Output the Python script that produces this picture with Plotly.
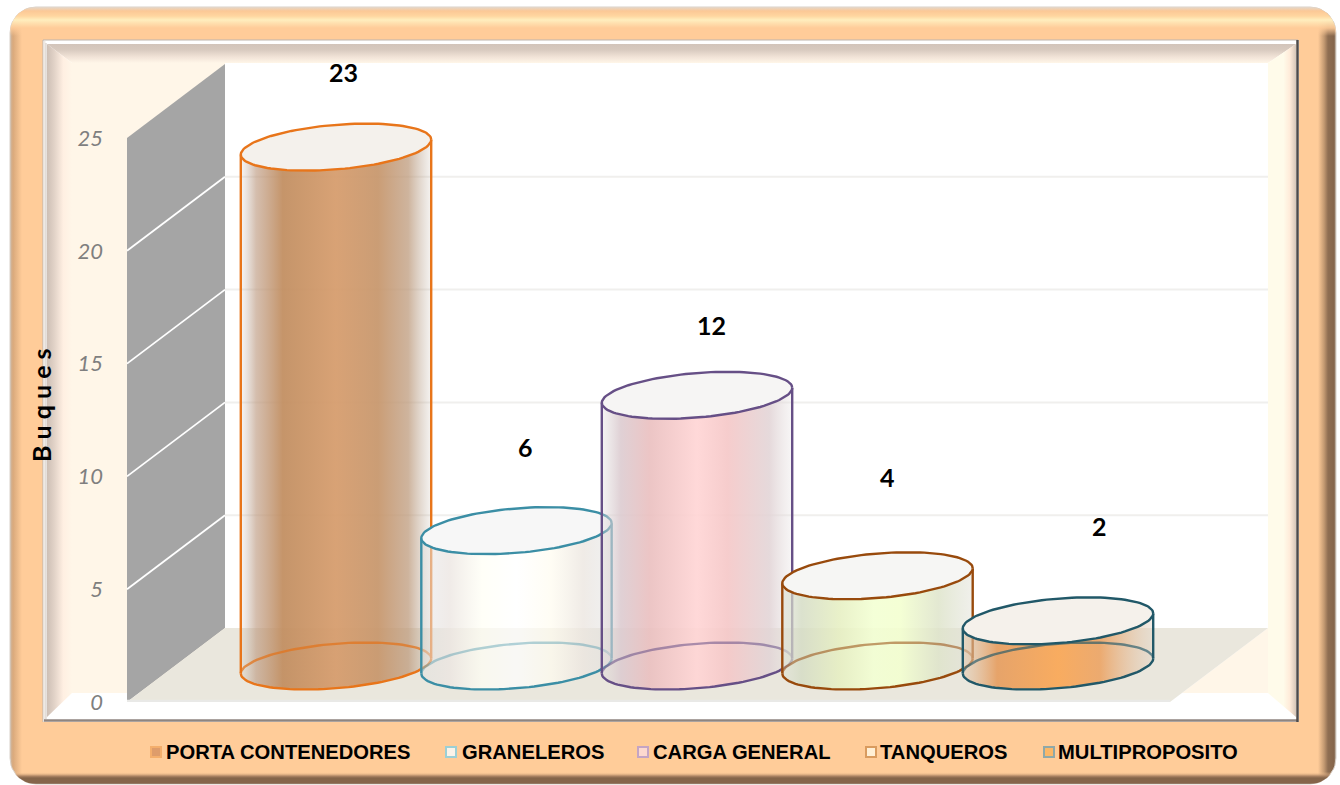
import numpy as np
import plotly.graph_objects as go

# ---- data ----
categories = ["PORTA CONTENEDORES", "GRANELEROS", "CARGA GENERAL", "TANQUEROS", "MULTIPROPOSITO"]
values = [23, 6, 12, 4, 2]
tick_values = [0, 5, 10, 15, 20, 25]
axis_title = "B u q u e s"
label_dx = [0.04, 0.05, 0.08, 0.055, 0.23]
label_dy = [3.33, 3.7, 3.12, 4.39, 4.2]
line_colors = ["#E8751A", "#3B8EA5", "#664F86", "#984A0C", "#215868"]
back_arc_colors = ["rgba(226,116,30,0.75)", "rgba(59,142,165,0.38)", "rgba(102,79,134,0.55)", "rgba(152,74,12,0.55)", "rgba(33,88,104,0.65)"]
top_colors = ["#F4F1EC", "#F7F7F7", "#F6F5F4", "#F6F6F4", "#F5F1EB"]
body_stops = [
    [[0, "rgba(190,175,165,0.12)"], [0.08, "rgba(190,155,130,0.65)"], [0.22, "rgba(194,143,98,0.95)"], [0.5, "rgba(214,157,110,0.95)"], [0.72, "rgba(200,152,110,0.95)"], [0.88, "rgba(190,155,125,0.75)"], [1, "rgba(190,175,160,0.15)"]],
    [[0, "rgba(225,225,225,0.4)"], [0.15, "rgba(236,230,226,0.8)"], [0.32, "rgba(255,255,245,0.72)"], [0.5, "rgba(255,255,255,0.72)"], [0.68, "rgba(255,252,240,0.72)"], [0.85, "rgba(236,230,224,0.8)"], [1, "rgba(225,225,225,0.45)"]],
    [[0, "rgba(220,215,215,0.3)"], [0.1, "rgba(220,203,208,0.9)"], [0.25, "rgba(234,192,192,0.92)"], [0.5, "rgba(255,213,213,0.92)"], [0.66, "rgba(245,200,200,0.92)"], [0.88, "rgba(226,212,214,0.88)"], [1, "rgba(230,225,225,0.3)"]],
    [[0, "rgba(222,226,212,0.55)"], [0.1, "rgba(213,220,197,0.85)"], [0.3, "rgba(230,239,194,0.88)"], [0.48, "rgba(243,255,211,0.9)"], [0.62, "rgba(243,255,208,0.9)"], [0.82, "rgba(222,228,202,0.85)"], [1, "rgba(225,225,215,0.5)"]],
    [[0, "rgba(225,200,175,0.5)"], [0.18, "rgba(230,160,100,0.95)"], [0.5, "rgba(249,170,92,0.97)"], [0.72, "rgba(236,167,106,0.95)"], [1, "rgba(224,208,192,0.4)"]],
]
legend_fill = ["#DE9C6B", "#FBF3E9", "#FDD9CF", "#FFEFD5", "#FBB767"]
legend_line = ["#F4AE6C", "#9CCFD5", "#C4A4C4", "#D99B5F", "#8FA8A8"]
legend_marker_px = [156, 451, 643, 871, 1049]
legend_text_px = [164, 460, 651, 878, 1056]

W, H = 1340, 785
CX0, STEP = 336.0, 180.5        # category centre spacing in px
PX = 22.56                      # px per unit of value
FRONT0, MID0 = 702.0, 666.0     # y px of value 0: front plane, cylinder plane
DEPTH = 74 / PX                 # back plane offset in value units
RX, RY, SKEW = 95.2 / STEP, 22.3 / PX, 7.5 / PX


def px_x(p):
    return (p - CX0) / STEP


fig = go.Figure()


def poly(xs, ys, fill=None, grad=None, gtype="horizontal", start=None, stop=None, line=None, lw=0, ax=("x", "y"), close=True):
    if close:
        xs, ys = list(xs) + [xs[0]], list(ys) + [ys[0]]
    kw = dict(x=xs, y=ys, mode="lines" if line else "none", xaxis=ax[0], yaxis=ax[1], hoverinfo="skip", showlegend=False)
    if line:
        kw["line"] = dict(color=line, width=lw)
    if grad is not None:
        kw["fill"] = "toself"
        g = dict(type=gtype, colorscale=grad)
        if start is not None:
            g["start"], g["stop"] = start, stop
        kw["fillgradient"] = g
    elif fill:
        kw["fill"] = "toself"
        kw["fillcolor"] = fill
    fig.add_trace(go.Scatter(**kw))


def rrect(x0, y0, x1, y1, r):
    t = np.linspace(0, np.pi / 2, 12)
    xs = np.concatenate([x1 - r + r * np.sin(t), x1 - r + r * np.cos(t), x0 + r - r * np.sin(t), x0 + r - r * np.cos(t)])
    ys = np.concatenate([y0 + r - r * np.cos(t), y1 - r + r * np.sin(t), y1 - r + r * np.cos(t), y0 + r - r * np.sin(t)])
    return xs.tolist(), ys.tolist()


# ---- outer frame (pixel axes) ----
ox, oy = rrect(10, 7, 1336, 784, 26)
W_OUT = 1326.0
def sx(p):
    return (p - 10) / W_OUT
poly(ox, oy, grad=[[0, "#CDB8A4"], [sx(13), "#D9A97C"], [sx(22), "#FFCC99"], [sx(1318), "#FFCC99"], [sx(1324), "#C49A72"], [sx(1328), "#8F6E52"], [sx(1334), "#85654A"], [1, "#A89888"]], start=10, stop=1336, line="#D8D0C8", lw=1)
H_OUT = 777.0
def sy(p):
    return (p - 7) / H_OUT
poly(ox, oy, grad=[[0, "rgba(225,215,205,1)"], [sy(11), "rgba(252,200,150,1)"], [sy(16), "rgba(255,214,160,1)"], [sy(20), "rgba(255,238,190,1)"], [sy(28), "rgba(255,204,153,0.9)"], [sy(36), "rgba(255,204,153,0)"], [sy(772), "rgba(255,204,153,0)"], [sy(776), "rgba(170,130,98,0.95)"], [sy(778), "rgba(133,101,74,1)"], [sy(783), "rgba(133,101,74,1)"], [1, "rgba(160,140,125,1)"]], gtype="vertical", start=7, stop=784)

# ---- inner frame ----
poly([43, 1299, 1299, 43], [40, 40, 722, 722], fill="#FFFFFF")
poly([72, 1268, 1268, 72], [63, 63, 693, 693], fill="#FFFFFF")
poly([72, 225, 225, 72], [63, 63, 693, 693], fill="#FFF6E8")
poly([1268, 1182, 1268], [628, 693, 693], fill="#FFF6E8")
poly([47, 1296, 1268, 72], [44, 44, 63, 63], grad=[[0, "#D2C4BA"], [0.3, "#D8CABF"], [0.7, "#F2E4D8"], [1, "#FFF6E8"]], gtype="vertical", start=44, stop=63)
poly([47, 72, 72, 47], [44, 63, 693, 717], grad=[[0, "#CDBFB5"], [0.3, "#E2D3C8"], [0.65, "#FFEFE2"], [1, "#FFF6E8"]], start=47, stop=72)
poly([1296, 1268, 1268, 1296], [44, 63, 693, 717], grad=[[0, "#FFFBEA"], [0.55, "#FFFBEA"], [0.78, "#FFEBD9"], [1, "#D6C6B8"]], start=1268, stop=1296)
poly([43, 43, 1298], [722, 40, 40], line="#BDB5AE", lw=1, close=False)
poly([44.5, 44.5], [41, 721], line="#EFE9E3", lw=2, close=False)
poly([46, 46], [43, 719], line="#CFC6BE", lw=1, close=False)
poly([44, 1298], [720.5, 720.5], line="#8F8580", lw=2.5, close=False)
poly([1297.5, 1297.5], [40, 722], line="#4E4A48", lw=2.5, close=False)

# ---- legend ----
for i, name in enumerate(categories):
    fig.add_trace(go.Scatter(x=[legend_marker_px[i]], y=[752], mode="markers", name=name, showlegend=False, hoverinfo="skip",
                             marker=dict(symbol="square", size=10, color=legend_fill[i], line=dict(color=legend_line[i], width=2)),
                             xaxis="x", yaxis="y"))
    fig.add_annotation(x=legend_text_px[i], y=752, xref="x", yref="y", text=f"<b>{name}</b>", showarrow=False, xanchor="left", yanchor="middle",
                       font=dict(family="Liberation Sans", size=20.2, color="#000000"))

# ---- walls, floor, grid (front-plane value axis y2) ----
xf, xb = px_x(127), px_x(225)
xr, xrf = px_x(1268), px_x(1170)
top = tick_values[-1]
ax2 = ("x2", "y2")
poly([xf, xb, xb, xf], [0, DEPTH, top + DEPTH, top], fill="#A5A5A5", ax=ax2)
poly([xf, xb, xr, xrf], [0, DEPTH, DEPTH, 0], fill="#EAE7DD", ax=ax2)
poly([xf, xrf, xrf, xf], [0, 0, 0.1, 0.1], fill="#E9E9E7", ax=ax2)
for v in tick_values[1:-1]:
    poly([xf, xb], [v, v + DEPTH], line="#FFFFFF", lw=1.8, ax=ax2, close=False)
    poly([xb, xr], [v + DEPTH, v + DEPTH], line="#F0EFED", lw=2, ax=ax2, close=False)

# ---- cylinders (cylinder-plane value axis y3) ----
ax3 = ("x2", "y3")
t_front = np.linspace(np.pi, 2 * np.pi, 60)   # front half of the ellipse
t_back = np.linspace(0, np.pi, 60)
t_all = np.linspace(0, 2 * np.pi, 120)
LW = 2.4


def ell(i, v, t):
    return (i + RX * np.cos(t)).tolist(), (v + RY * np.sin(t) + SKEW * np.cos(t)).tolist()


for i, v in enumerate(values):
    bx, by = ell(i, 0, t_front)
    tx, ty = ell(i, v, t_back)
    poly(bx + tx, by + ty, grad=body_stops[i], start=i - RX, stop=i + RX, ax=ax3)
    ax_, ay_ = ell(i, 0, t_back)
    poly(ax_, ay_, line=back_arc_colors[i], lw=LW, ax=ax3, close=False)
    poly(bx, by, line=line_colors[i], lw=LW, ax=ax3, close=False)
    poly([i - RX, i - RX], [-SKEW, v - SKEW], line=line_colors[i], lw=LW, ax=ax3, close=False)
    poly([i + RX, i + RX], [SKEW, v + SKEW], line=line_colors[i], lw=LW, ax=ax3, close=False)
    ex, ey = ell(i, v, t_all)
    poly(ex, ey, fill=top_colors[i], line=line_colors[i], lw=LW, ax=ax3, close=False)
    fig.add_annotation(x=i + label_dx[i], y=v + label_dy[i], xref="x2", yref="y3", text=f"<b>{v}</b>", showarrow=False,
                       font=dict(family="Lato", size=25, color="#000000"))

fig.add_annotation(x=41, y=405, xref="x", yref="y", text=f"<b>{axis_title}</b>", textangle=-90, showarrow=False,
                   font=dict(family="Lato", size=25, color="#000000"))

hidden = dict(visible=False, fixedrange=True)
fig.update_layout(
    width=W, height=H, margin=dict(l=0, r=0, t=0, b=0), paper_bgcolor="#FFFFFF", plot_bgcolor="rgba(0,0,0,0)", showlegend=False,
    xaxis=dict(range=[0, W], domain=[0, 1], **hidden),
    yaxis=dict(range=[H, 0], domain=[0, 1], **hidden),
    xaxis2=dict(range=[px_x(0), px_x(W)], overlaying="x", anchor="y3", **hidden),
    yaxis2=dict(range=[(FRONT0 - H) / PX, FRONT0 / PX], overlaying="y", anchor="free", position=103 / W, side="left",
                tickvals=tick_values, ticktext=[str(t) for t in tick_values], showgrid=False, zeroline=False, showline=False, ticks="",
                tickfont=dict(family="Lato", size=22, color="#7F7F7F", style="italic"), fixedrange=True),
    yaxis3=dict(range=[(MID0 - H) / PX, MID0 / PX], overlaying="y", anchor="x2", **hidden),
)

fig.write_html("out.html", config={"displayModeBar": False},
               post_script="document.body.style.margin='0';document.body.style.overflow='hidden';")
